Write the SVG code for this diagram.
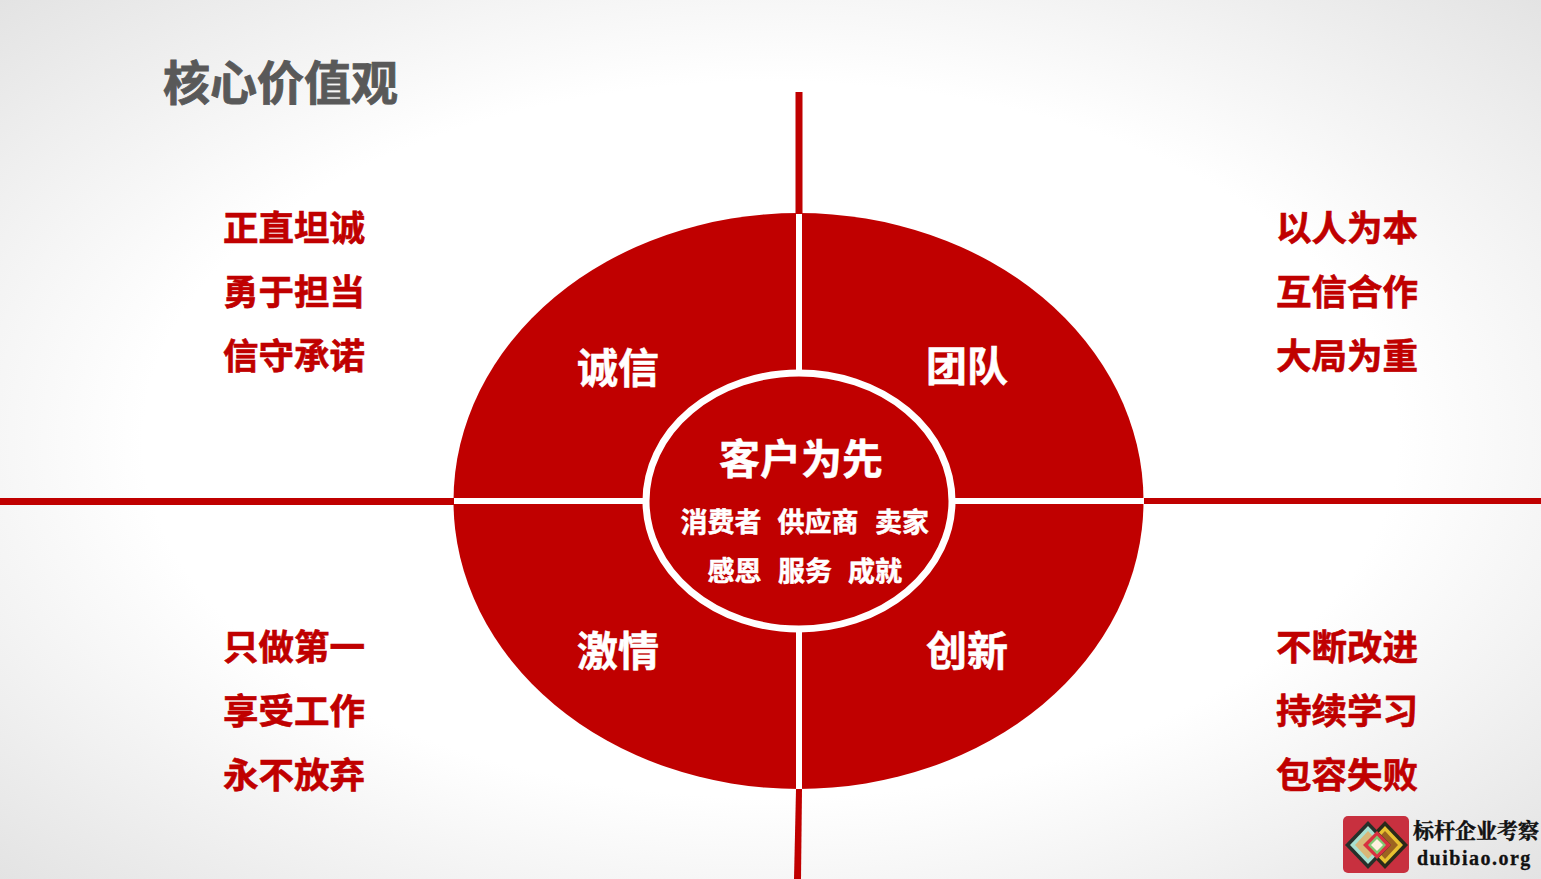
<svg xmlns="http://www.w3.org/2000/svg" width="1541" height="879" viewBox="0 0 1541 879">
<style>
text{font-family:"Noto Sans CJK SC",sans-serif;font-weight:700}
.r{fill:#c00000;stroke:#c00000;stroke-width:.6;font-size:35.5px}
.w{fill:#fff;stroke:#fff;stroke-width:.5;text-anchor:middle}
.sm{font-size:27px}
.q{font-size:41px}
.l{stroke:#c00000;stroke-width:7;fill:none}
.s{stroke:#fff;stroke-width:6;fill:none}
</style>
<defs><radialGradient id="bg" cx="50%" cy="50%" r="74%"><stop offset="0.55" stop-color="#fff"/><stop offset="1" stop-color="#e0e0e0"/></radialGradient></defs>
<rect width="1541" height="879" fill="url(#bg)"/>
<text x="163" y="100" font-size="47" fill="#595959" stroke="#595959" stroke-width=".9">核心价值观</text>
<g id="connectors">
<path class="l" d="M799 92V214M0 501.500H454"/>
<path fill="#c00000" d="M796 789H802L801 879H794Z"/>
<path fill="#c00000" d="M1144 498H1541V504H1144Z"/>
</g>
<g id="wheel">
<ellipse cx="798.500" cy="501" rx="345" ry="288" fill="#c00000"/>
<path class="s" d="M799 214V374M799 628V789M454 501H645M953 501H1144"/>
<ellipse cx="799" cy="501" rx="153" ry="128" fill="#c00000" stroke="#fff" stroke-width="7"/>
</g>
<g id="center"><text class="w" x="801" y="474" font-size="41">客户为先</text>
<text class="w sm" x="721" y="532">消费者</text><text class="w sm" x="818" y="532">供应商</text><text class="w sm" x="902" y="532">卖家</text>
<text class="w sm" x="734.500" y="581">感恩</text><text class="w sm" x="805" y="581">服务</text><text class="w sm" x="875" y="581">成就</text></g>
<g id="q1"><text class="w q" x="618" y="383">诚信</text></g>
<g id="q2"><text class="w q" x="967" y="381">团队</text></g>
<g id="q3"><text class="w q" x="618" y="666">激情</text></g>
<g id="q4"><text class="w q" x="967" y="666">创新</text></g>
<g id="tl"><text class="r" x="223" y="241">正直坦诚</text><text class="r" x="223" y="305">勇于担当</text><text class="r" x="223" y="369">信守承诺</text></g>
<g id="tr"><text class="r" x="1276" y="241">以人为本</text><text class="r" x="1276" y="305">互信合作</text><text class="r" x="1276" y="369">大局为重</text></g>
<g id="bl"><text class="r" x="223" y="660">只做第一</text><text class="r" x="223" y="724">享受工作</text><text class="r" x="223" y="788">永不放弃</text></g>
<g id="br"><text class="r" x="1276" y="660">不断改进</text><text class="r" x="1276" y="724">持续学习</text><text class="r" x="1276" y="788">包容失败</text></g>
<g id="logo">
<rect x="1343" y="816" width="66" height="57" rx="5" fill="#c8303f"/>
<path d="M1385 821L1408 845L1385 869L1362 845Z" fill="#2a2a1a"/>
<path d="M1385 826L1403 845L1385 864L1367 845Z" fill="#e8c030"/>
<path d="M1385 831L1398 845L1385 859L1372 845Z" fill="#9c6420"/>
<path d="M1368 821L1391 845L1368 869L1345 845Z" fill="#26302a"/>
<path d="M1368 826L1386 845L1368 864L1350 845Z" fill="#a8e0d0"/>
<path d="M1368 831L1381 845L1368 859L1355 845Z" fill="#d8b878"/>
<path d="M1377 831L1391 845L1377 859L1363 845Z" fill="#d83040"/>
<path d="M1377 835.500L1386 845L1377 854.500L1368 845Z" fill="#80c870"/>
<path d="M1377 839L1383 845L1377 851L1371 845Z" fill="#fff0e0"/>
<text x="1413" y="838" font-size="21" fill="#111" stroke="#111" stroke-width=".5" style="font-family:'Noto Serif CJK SC','Noto Sans CJK SC',serif">标杆企业考察</text>
<text x="1417" y="865" font-size="20" fill="#111" stroke="#111" stroke-width=".3" letter-spacing="1.500" style="font-family:'Liberation Serif',serif">duibiao.org</text>
</g>
</svg>
